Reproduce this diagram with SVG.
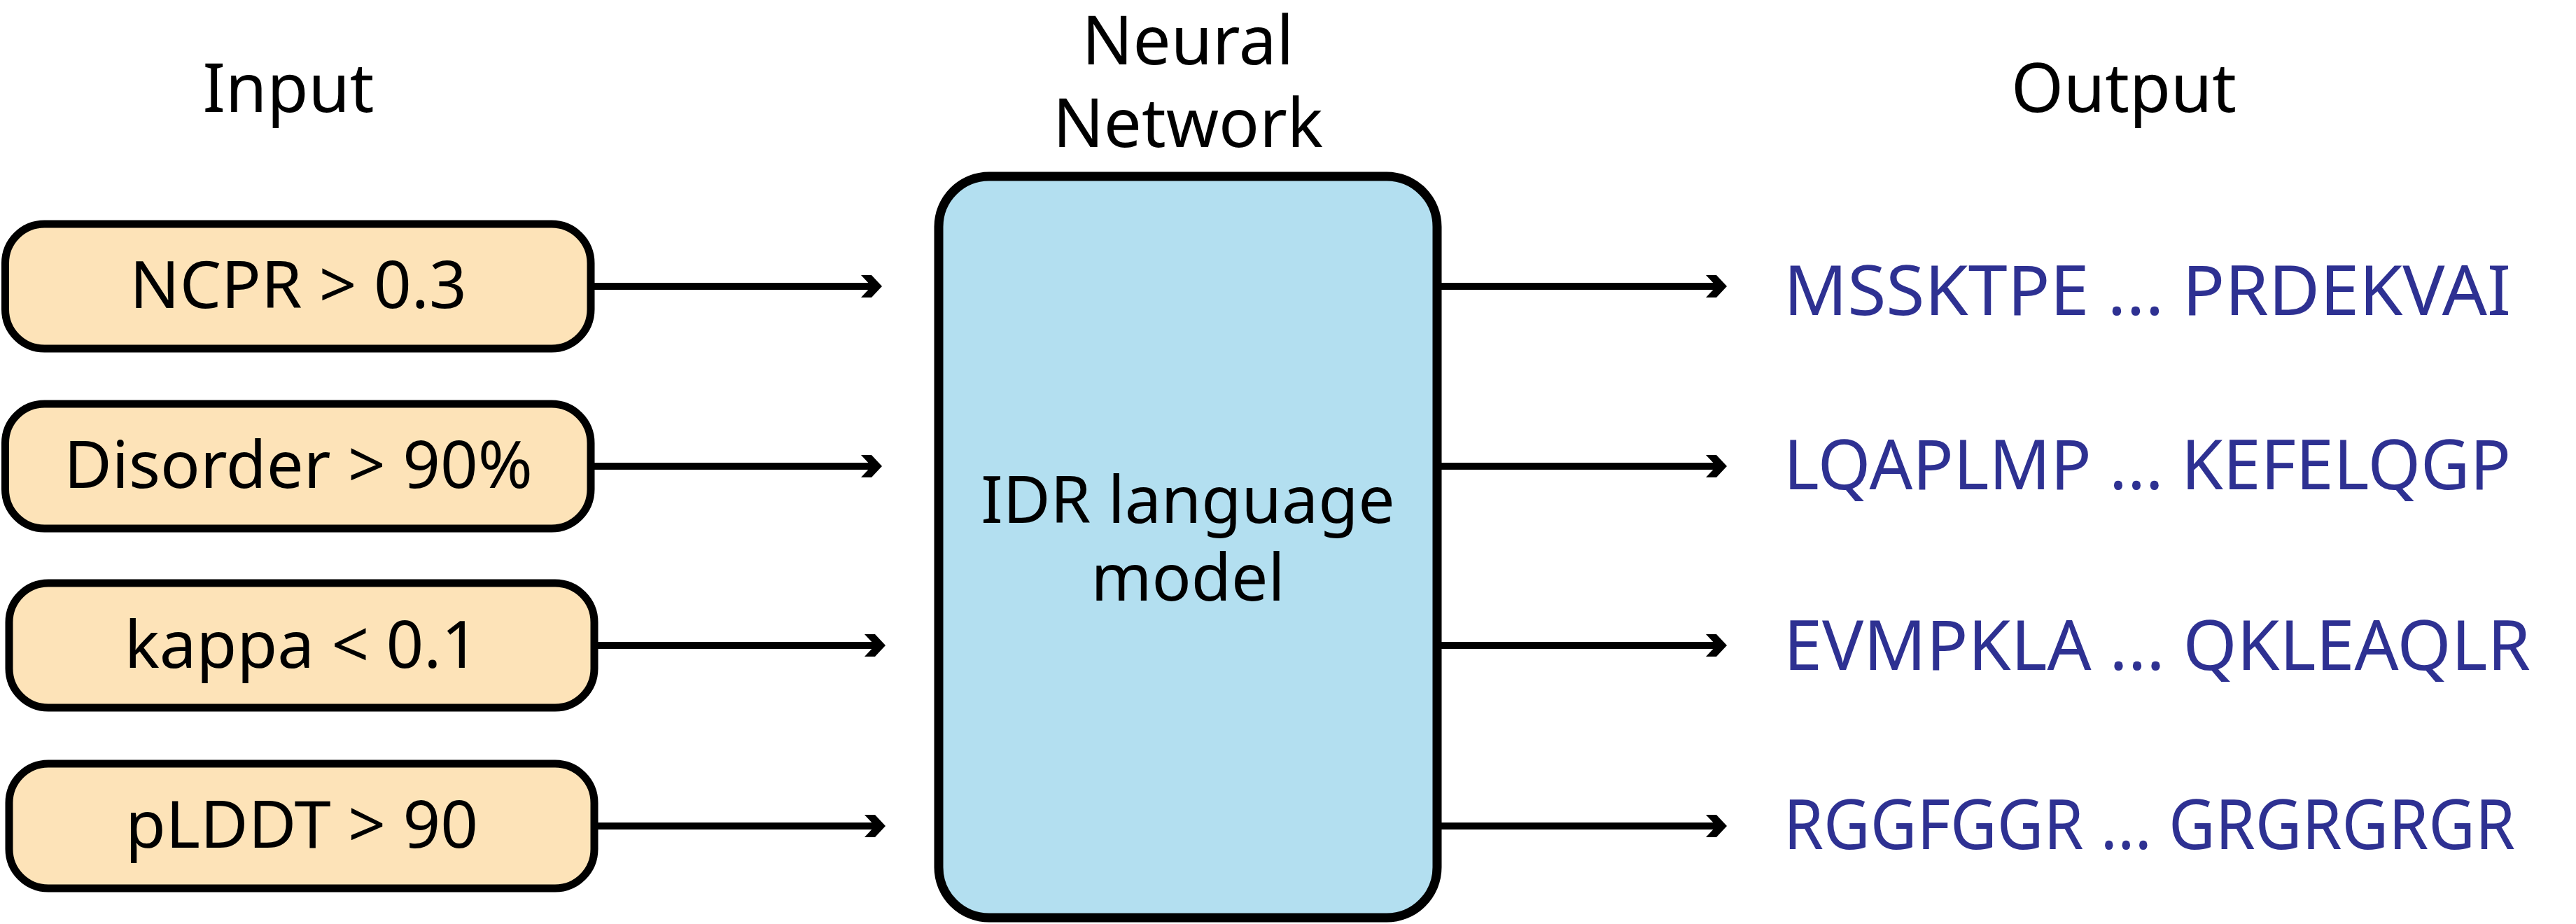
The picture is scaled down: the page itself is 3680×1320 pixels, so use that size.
<svg xmlns="http://www.w3.org/2000/svg" width="3680" height="1320" viewBox="0 0 3680 1320">
  <defs>
    <marker id="ah" markerUnits="userSpaceOnUse" viewBox="-20 -16 30 32" refX="0" refY="0" markerWidth="30" markerHeight="32" orient="auto" overflow="visible">
      <path d="M-20,-16 L-5,-16 L10,0 L-5,16 L-20,16 L-5,0 Z" fill="#000"/>
    </marker>
  </defs>
  <style>
    text { font-family: "Noto Sans", "DejaVu Sans", sans-serif; }
    .head { font-size: 96px; fill: #000; text-anchor: middle; }
    .inbox { fill: #fde3b8; stroke: #000; stroke-width: 11; }
    .inlbl { font-size: 94px; fill: #000; text-anchor: middle; }
    .nn { fill: #b3dff0; stroke: #000; stroke-width: 13; }
    .nnlbl { font-size: 93px; fill: #000; text-anchor: middle; }
    .seq { font-size: 98px; fill: #2e3192; }
    .conn { stroke: #000; stroke-width: 10; fill: none; marker-end: url(#ah); }
  </style>
  <rect width="3680" height="1320" fill="#fff"/>

  <g id="headers">
    <text class="head" x="412" y="160">Input</text>
    <text class="head" x="1697" y="92">Neural</text>
    <text class="head" x="1697" y="210">Network</text>
    <text class="head" x="3034" y="160">Output</text>
  </g>

  <g id="input-ncpr">
    <rect class="inbox" x="7.5" y="320" width="836.5" height="178" rx="56" ry="56"/>
    <text class="inlbl" x="426" y="440">NCPR &gt; 0.3</text>
  </g>
  <g id="input-disorder">
    <rect class="inbox" x="7.5" y="577" width="836.5" height="178" rx="56" ry="56"/>
    <text class="inlbl" x="426" y="697">Disorder &gt; 90%</text>
  </g>
  <g id="input-kappa">
    <rect class="inbox" x="13" y="833" width="836" height="178" rx="56" ry="56"/>
    <text class="inlbl" x="431" y="954">kappa &lt; 0.1</text>
  </g>
  <g id="input-plddt">
    <rect class="inbox" x="13" y="1091" width="836" height="178" rx="56" ry="56"/>
    <text class="inlbl" x="431" y="1211">pLDDT &gt; 90</text>
  </g>

  <g id="neural-network">
    <rect class="nn" x="1341" y="252" width="712" height="1059" rx="72" ry="72"/>
    <text class="nnlbl" x="1697" y="747">IDR language</text>
    <text class="nnlbl" x="1697" y="858">model</text>
  </g>

  <g id="output-1"><text class="seq" x="2548" y="450" textLength="1039" lengthAdjust="spacingAndGlyphs">MSSKTPE ... PRDEKVAI</text></g>
  <g id="output-2"><text class="seq" x="2548" y="699" textLength="1039" lengthAdjust="spacingAndGlyphs">LQAPLMP ... KEFELQGP</text></g>
  <g id="output-3"><text class="seq" x="2548" y="957" textLength="1067" lengthAdjust="spacingAndGlyphs">EVMPKLA ... QKLEAQLR</text></g>
  <g id="output-4"><text class="seq" x="2548" y="1213" textLength="1045" lengthAdjust="spacingAndGlyphs">RGGFGGR ... GRGRGRGR</text></g>

  <g id="connectors">
    <line class="conn" x1="844" y1="409" x2="1250" y2="409"/>
    <line class="conn" x1="844" y1="666" x2="1250" y2="666"/>
    <line class="conn" x1="849" y1="922" x2="1255" y2="922"/>
    <line class="conn" x1="849" y1="1180" x2="1255" y2="1180"/>
    <line class="conn" x1="2053" y1="409" x2="2457" y2="409"/>
    <line class="conn" x1="2053" y1="666" x2="2457" y2="666"/>
    <line class="conn" x1="2053" y1="922" x2="2457" y2="922"/>
    <line class="conn" x1="2053" y1="1180" x2="2457" y2="1180"/>
  </g>
</svg>
